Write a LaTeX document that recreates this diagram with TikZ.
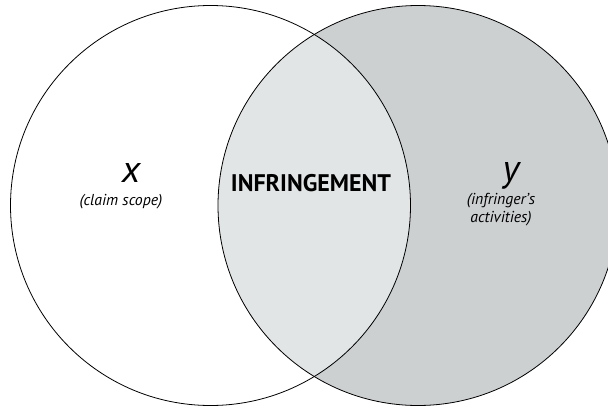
\documentclass[tikz,border=0pt]{standalone}
\usepackage{fontspec}
\setmainfont{PT Sans}
\definecolor{lensgray}{HTML}{E2E5E6}
\definecolor{actgray}{HTML}{CDD0D1}
\begin{document}
\begin{tikzpicture}[
  x=1pt, y=-1pt,
  setline/.style={draw=black, line width=0.8pt},
  letter/.style={font=\fontsize{38}{38}\selectfont\itshape, inner sep=0pt, anchor=base},
  caption/.style={font=\fontsize{15.8}{18}\selectfont\itshape, align=center, inner sep=0pt}
]
\useasboundingbox (0,0) rectangle (608,407);
\clip (0,0) rectangle (608,407);
\coordinate (claim) at (210.5,205.5);
\coordinate (acts) at (418,205.5);

% Sets
\fill[white] (claim) circle (200);
\fill[actgray] (acts) circle (200);
\begin{scope}
  \clip (claim) circle (200);
  \fill[lensgray] (acts) circle (200);
\end{scope}
\draw[setline] (claim) circle (200);
\draw[setline] (acts) circle (200);

% Labels
\node[letter] (xlab) at (131,182) {x};
\node[caption] (xcap) at (121,202) {(claim scope)};
\node[font=\fontsize{24}{24}\selectfont\bfseries, inner sep=0pt] (infr) at (311,183) {INFRINGEMENT};
\node[letter] (ylab) at (511,181) {y};
\node[caption] (ycap) at (501,210) {(infringer's\\activities)};
\end{tikzpicture}
\end{document}
